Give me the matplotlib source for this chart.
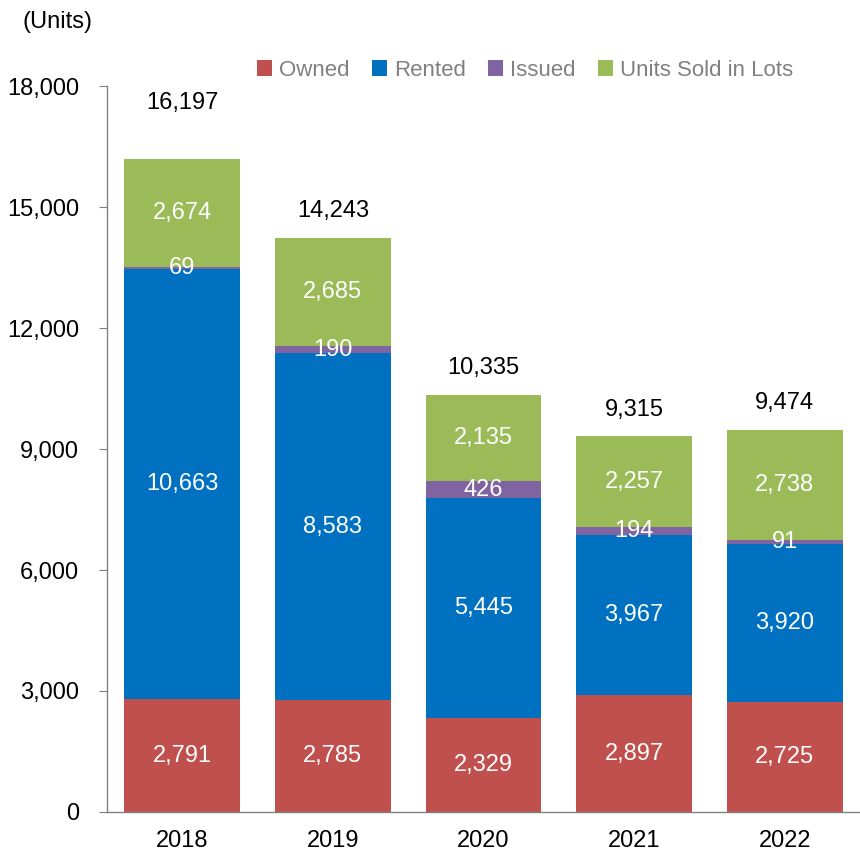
import matplotlib.pyplot as plt
import numpy as np

plt.rcParams['font.family'] = ['Liberation Sans', 'DejaVu Sans']

years = ['2018', '2019', '2020', '2021', '2022']
owned = [2791, 2785, 2329, 2897, 2725]
rented = [10663, 8583, 5445, 3967, 3920]
issued = [69, 190, 426, 194, 91]
lots = [2674, 2685, 2135, 2257, 2738]
totals = [16197, 14243, 10335, 9315, 9474]

series = [
    ('Owned', owned, '#C0504D'),
    ('Rented', rented, '#0070C0'),
    ('Issued', issued, '#8064A2'),
    ('Units Sold in Lots', lots, '#9BBB59'),
]

fig = plt.figure(figsize=(8.6, 8.55), dpi=100)
ax = fig.add_axes([0.1244, 0.0503, 0.8756, 0.8491])

x = np.arange(len(years))
bottom = np.zeros(len(years))
for name, vals, color in series:
    vals = np.array(vals)
    ax.bar(x, vals, 0.77, bottom=bottom, color=color, label=name, linewidth=0)
    for i, v in enumerate(vals):
        ax.text(x[i], bottom[i] + v / 2, f'{v:,}', ha='center', va='center',
                color='white', fontsize=17)
    bottom += vals

# total labels above each bar
offsets = [56, 27, 27, 26, 27]
for i, t in enumerate(totals):
    ax.annotate(f'{t:,}', (x[i], bottom[i]), xytext=(0, offsets[i]),
                textcoords='offset pixels', ha='center', va='center', fontsize=17)

ax.set_xlim(-0.5, 4.5)
ax.set_ylim(0, 18000)
ax.set_yticks(np.arange(0, 18001, 3000))
ax.set_yticklabels([f'{v:,}' for v in range(0, 18001, 3000)])
ax.set_xticks(x)
ax.set_xticklabels(years)
ax.tick_params(axis='y', labelsize=17, length=6, color='#808080', pad=14)
ax.tick_params(axis='x', labelsize=17, length=0, pad=13)
for s in ['top', 'right']:
    ax.spines[s].set_visible(False)
for s in ['left', 'bottom']:
    ax.spines[s].set_color('#808080')
    ax.spines[s].set_linewidth(1)

fig.text(0.067, 0.974, '(Units)', ha='center', va='center', fontsize=17)

leg = ax.legend(loc='center', bbox_to_anchor=(0.555, 1.022), bbox_transform=ax.transAxes,
                ncol=4, frameon=False, fontsize=16, handlelength=0.7, handleheight=0.7,
                handletextpad=0.3, columnspacing=1.0, labelcolor='#808080',
                borderpad=0, borderaxespad=0)

fig.savefig('out.png', dpi=100)
